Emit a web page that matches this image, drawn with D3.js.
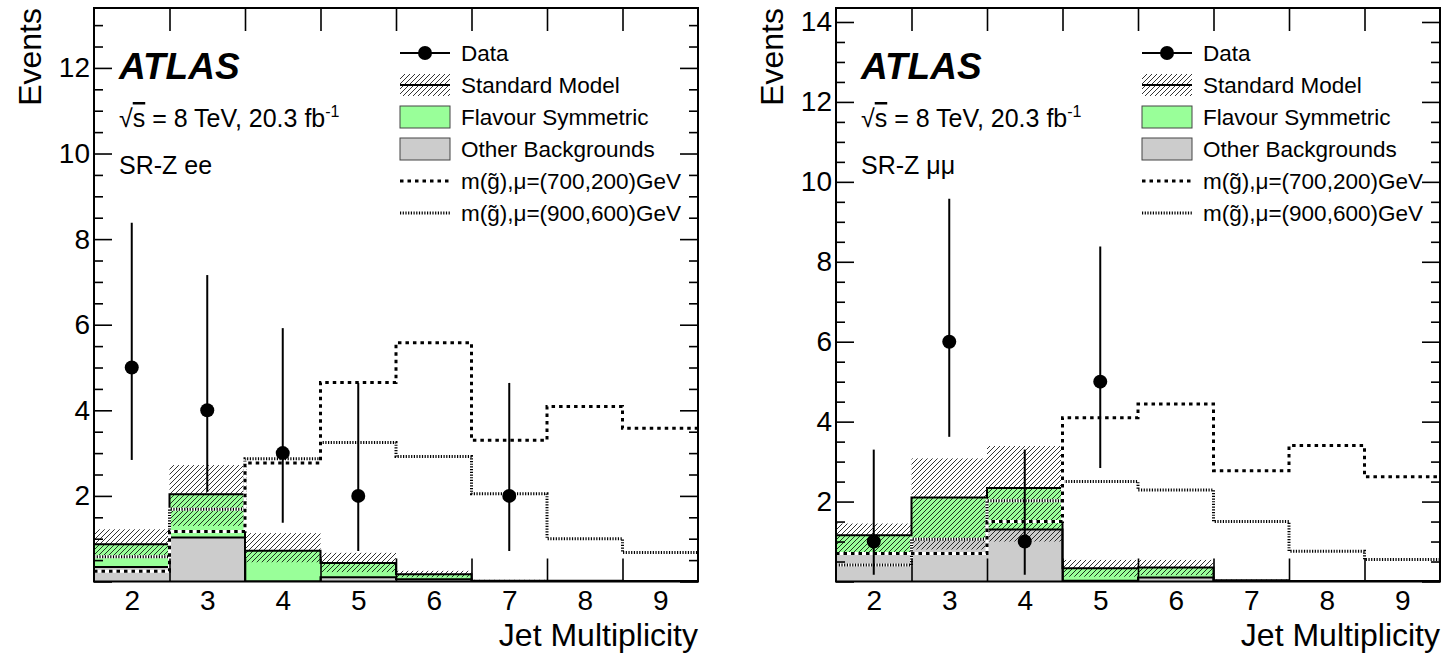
<!DOCTYPE html>
<html>
<head>
<meta charset="utf-8">
<script src="https://cdn.jsdelivr.net/npm/d3@7/dist/d3.min.js"></script>
<style>
    body { margin: 0; background: #fff; }
    svg text { font-family: "Liberation Sans", Arial, Helvetica, sans-serif; fill: #000; }
</style>
</head>
<body>
<svg id="chart" width="1444" height="660"></svg>
<script>
// jet multiplicity bins
var jets = [2, 3, 4, 5, 6, 7, 8, 9];

// SR-Z ee
var eeData = [5, 4, 3, 2, 0, 2, 0, 0];
var eeDataLo = [2.84, 2.09, 1.37, 0.71, 0, 0.71, 0, 0];
var eeDataHi = [8.38, 7.16, 5.92, 4.64, 0, 4.64, 0, 0];
var eeOther = [0.34, 1.03, 0.0, 0.10, 0.05, 0.01, 0.01, 0.0];
var eeFlav = [0.53, 1.01, 0.72, 0.33, 0.12, 0.01, 0.01, 0.01];
var eeBandLo = [0.62, 1.30, 0.45, 0.22, 0.10, 0.0, 0.0, 0.0];
var eeBandHi = [1.22, 2.72, 1.13, 0.67, 0.25, 0.04, 0.03, 0.02];
var eeSig700 = [0.24, 1.17, 2.77, 4.65, 5.58, 3.30, 4.09, 3.58];
var eeSig900 = [0.58, 1.69, 2.87, 3.25, 2.92, 2.05, 1.00, 0.68];

// SR-Z mumu
var mmData = [1, 6, 1, 5, 0, 0, 0, 0];
var mmDataLo = [0.17, 3.62, 0.17, 2.84, 0, 0, 0, 0];
var mmDataHi = [3.30, 9.58, 3.30, 8.38, 0, 0, 0, 0];
var mmOther = [0.70, 1.05, 1.30, 0.02, 0.10, 0.01, 0.0, 0.0];
var mmFlav = [0.46, 1.05, 1.04, 0.31, 0.25, 0.02, 0.01, 0.01];
var mmBandLo = [0.72, 0.80, 1.00, 0.12, 0.16, 0.01, 0.0, 0.0];
var mmBandHi = [1.45, 3.08, 3.39, 0.54, 0.54, 0.05, 0.02, 0.02];
var mmSig700 = [0.70, 0.70, 1.50, 4.10, 4.44, 2.77, 3.40, 2.62];
var mmSig900 = [0.41, 1.06, 2.02, 2.50, 2.29, 1.50, 0.76, 0.55];

var eeYTicks = [2, 4, 6, 8, 10, 12];
var mmYTicks = [2, 4, 6, 8, 10, 12, 14];
var legendLabels = ["Data", "Standard Model", "Flavour Symmetric", "Other Backgrounds",
    "m(g\u0303),\u03bc=(700,200)GeV", "m(g\u0303),\u03bc=(900,600)GeV"];

var svg = d3.select("#chart");
var defs = svg.append("defs");
defs.append("pattern")
    .attr("id", "hatch")
    .attr("patternUnits", "userSpaceOnUse")
    .attr("width", 5).attr("height", 5)
    .append("path")
    .attr("d", "M-1,1 l2,-2 M0,5 l5,-5 M4,6 l2,-2")
    .attr("stroke", "#000")
    .attr("stroke-width", 0.8);

var green = "#99ff99";
var grey = "#cccccc";
var plotW = 604, plotTop = 8, plotBot = 581.5;

function stepPath(x, y, vals, closed) {
    var p = "";
    vals.forEach(function (v, i) {
        var x0 = x(jets[i] - 0.5), x1 = x(jets[i] + 0.5);
        if (i == 0) p += closed ? "M" + x0 + "," + y(0) + "V" + y(v) : "M" + x0 + "," + y(v);
        else p += "V" + y(v);
        p += "H" + x1;
    });
    if (closed) p += "V" + y(0);
    return p;
}

function drawSignal(g, d, thick) {
    g.append("path").attr("d", d).attr("fill", "none")
        .attr("stroke", "#fff").attr("stroke-width", 3);
    g.append("path").attr("d", d).attr("fill", "none")
        .attr("stroke", "#000").attr("stroke-width", 3)
        .attr("stroke-dasharray", thick ? "3.5,4" : "1.2,1.5");
}

function drawPanel(ox, cfg) {
    var g = svg.append("g").attr("transform", "translate(" + ox + ",0)");
    var x = d3.scaleLinear().domain([1.5, 9.5]).range([0, plotW]);
    var y = d3.scaleLinear().domain([0, cfg.ymax]).range([plotBot, plotTop]);
    var clipId = "clip" + ox;
    defs.append("clipPath").attr("id", clipId).append("rect")
        .attr("x", 0).attr("y", plotTop).attr("width", plotW).attr("height", plotBot - plotTop);
    var inner = g.append("g").attr("clip-path", "url(#" + clipId + ")");
    var bw = function (j) { return x(j + 0.5) - x(j - 0.5); };
    var total = cfg.other.map(function (v, i) { return v + cfg.flav[i]; });

    // stacked backgrounds
    inner.selectAll(".oth").data(jets).enter().append("rect")
        .attr("x", function (j) { return x(j - 0.5); })
        .attr("width", bw)
        .attr("y", function (j, i) { return y(cfg.other[i]); })
        .attr("height", function (j, i) { return y(0) - y(cfg.other[i]); })
        .attr("fill", grey);
    inner.selectAll(".fs").data(jets).enter().append("rect")
        .attr("x", function (j) { return x(j - 0.5); })
        .attr("width", bw)
        .attr("y", function (j, i) { return y(total[i]); })
        .attr("height", function (j, i) { return y(cfg.other[i]) - y(total[i]); })
        .attr("fill", green);
    // SM uncertainty band
    inner.selectAll(".band").data(jets).enter().append("rect")
        .attr("x", function (j) { return x(j - 0.5); })
        .attr("width", bw)
        .attr("y", function (j, i) { return y(cfg.bandHi[i]); })
        .attr("height", function (j, i) { return y(cfg.bandLo[i]) - y(cfg.bandHi[i]); })
        .attr("fill", "url(#hatch)");
    inner.append("path").attr("d", stepPath(x, y, cfg.other, true))
        .attr("fill", "none").attr("stroke", "#000").attr("stroke-width", 2);
    inner.append("path").attr("d", stepPath(x, y, total, true))
        .attr("fill", "none").attr("stroke", "#000").attr("stroke-width", 2);

    // signals
    drawSignal(inner, stepPath(x, y, cfg.sig900, false), false);
    drawSignal(inner, stepPath(x, y, cfg.sig700, false), true);

    // data
    var pts = jets.map(function (j, i) { return { j: j, v: cfg.data[i], lo: cfg.lo[i], hi: cfg.hi[i] }; })
        .filter(function (d) { return d.v > 0; });
    inner.selectAll(".err").data(pts).enter().append("line")
        .attr("x1", function (d) { return x(d.j); }).attr("x2", function (d) { return x(d.j); })
        .attr("y1", function (d) { return y(d.lo); }).attr("y2", function (d) { return y(d.hi); })
        .attr("stroke", "#000").attr("stroke-width", 2);
    inner.selectAll(".pt").data(pts).enter().append("circle")
        .attr("cx", function (d) { return x(d.j); }).attr("cy", function (d) { return y(d.v); })
        .attr("r", 7).attr("fill", "#000");

    // axes
    var edges = [2.5, 3.5, 4.5, 5.5, 6.5, 7.5, 8.5];
    var minor = d3.range(0, cfg.ymax, 0.5).filter(function (v) { return v % 2 != 0; });
    var major = d3.range(0, cfg.ymax, 2);
    g.append("g").attr("transform", "translate(0," + plotBot + ")")
        .call(d3.axisBottom(x).tickValues(edges).tickSize(-23).tickFormat(""));
    var gxl = g.append("g").attr("transform", "translate(0," + plotBot + ")")
        .call(d3.axisBottom(x).tickValues(jets).tickSize(0).tickPadding(9).tickFormat(d3.format("d")));
    g.append("g").attr("transform", "translate(0," + plotTop + ")")
        .call(d3.axisTop(x).tickValues(edges).tickSize(-23).tickFormat(""));
    g.append("g").call(d3.axisLeft(y).tickValues(major).tickSize(-18).tickFormat(""));
    g.append("g").call(d3.axisLeft(y).tickValues(minor).tickSize(-9).tickFormat(""));
    g.append("g").attr("transform", "translate(" + plotW + ",0)")
        .call(d3.axisRight(y).tickValues(major).tickSize(-18).tickFormat(""));
    g.append("g").attr("transform", "translate(" + plotW + ",0)")
        .call(d3.axisRight(y).tickValues(minor).tickSize(-9).tickFormat(""));
    var gyl = g.append("g").call(d3.axisLeft(y).tickValues(cfg.yTicks).tickSize(0).tickPadding(4).tickFormat(d3.format("d")));
    g.selectAll(".domain").remove();
    g.selectAll(".tick line").attr("stroke", "#000").attr("stroke-width", 1.6);
    gxl.selectAll("text").attr("font-size", 28);
    gyl.selectAll("text").attr("font-size", 28);

    g.append("rect").attr("x", 0).attr("y", plotTop).attr("width", plotW).attr("height", plotBot - plotTop)
        .attr("fill", "none").attr("stroke", "#000").attr("stroke-width", 2);

    // axis titles
    g.append("text").attr("x", plotW).attr("y", 646).attr("text-anchor", "end")
        .attr("font-size", 32).text("Jet Multiplicity");
    g.append("text").attr("transform", "translate(-53,8) rotate(-90)").attr("text-anchor", "end")
        .attr("font-size", 32).text("Events");

    // labels
    g.append("text").attr("x", 25).attr("y", 79).attr("font-size", 37)
        .attr("font-weight", "bold").attr("font-style", "italic").text("ATLAS");
    var t = g.append("text").attr("x", 25).attr("y", 127).attr("font-size", 25);
    t.append("tspan").text("\u221a");
    t.append("tspan").attr("text-decoration", "overline").text("s");
    t.append("tspan").text(" = 8 TeV, 20.3 fb");
    t.append("tspan").attr("dy", -10).attr("font-size", 16).text("-1");
    g.append("text").attr("x", 25).attr("y", 174).attr("font-size", 25).text(cfg.region);

    // legend
    var lx = 306, tx = 367;
    var rows = [53, 85, 117, 149, 181, 213];
    var lg = g.append("g");
    lg.selectAll(".lt").data(legendLabels).enter().append("text")
        .attr("x", tx).attr("y", function (d, i) { return rows[i]; })
        .attr("dy", "0.36em").attr("font-size", 22.5).text(function (d) { return d; });
    lg.append("line").attr("x1", lx).attr("x2", lx + 50).attr("y1", rows[0]).attr("y2", rows[0])
        .attr("stroke", "#000").attr("stroke-width", 2);
    lg.append("circle").attr("cx", lx + 25).attr("cy", rows[0]).attr("r", 7).attr("fill", "#000");
    lg.append("rect").attr("x", lx).attr("y", rows[1] - 11).attr("width", 50).attr("height", 22)
        .attr("fill", "url(#hatch)");
    lg.append("line").attr("x1", lx).attr("x2", lx + 50).attr("y1", rows[1]).attr("y2", rows[1])
        .attr("stroke", "#000").attr("stroke-width", 2);
    lg.append("rect").attr("x", lx).attr("y", rows[2] - 11).attr("width", 50).attr("height", 22)
        .attr("fill", green).attr("stroke", "#444").attr("stroke-width", 1);
    lg.append("rect").attr("x", lx).attr("y", rows[3] - 11).attr("width", 50).attr("height", 22)
        .attr("fill", grey).attr("stroke", "#444").attr("stroke-width", 1);
    drawSignal(lg, "M" + lx + "," + rows[4] + "H" + (lx + 50), true);
    drawSignal(lg, "M" + lx + "," + rows[5] + "H" + (lx + 50), false);
}

drawPanel(94, {
    ymax: 13.4, yTicks: eeYTicks, region: "SR-Z ee",
    data: eeData, lo: eeDataLo, hi: eeDataHi,
    other: eeOther, flav: eeFlav, bandLo: eeBandLo, bandHi: eeBandHi,
    sig700: eeSig700, sig900: eeSig900
});
drawPanel(836, {
    ymax: 14.35, yTicks: mmYTicks, region: "SR-Z \u03bc\u03bc",
    data: mmData, lo: mmDataLo, hi: mmDataHi,
    other: mmOther, flav: mmFlav, bandLo: mmBandLo, bandHi: mmBandHi,
    sig700: mmSig700, sig900: mmSig900
});
</script>
</body>
</html>
